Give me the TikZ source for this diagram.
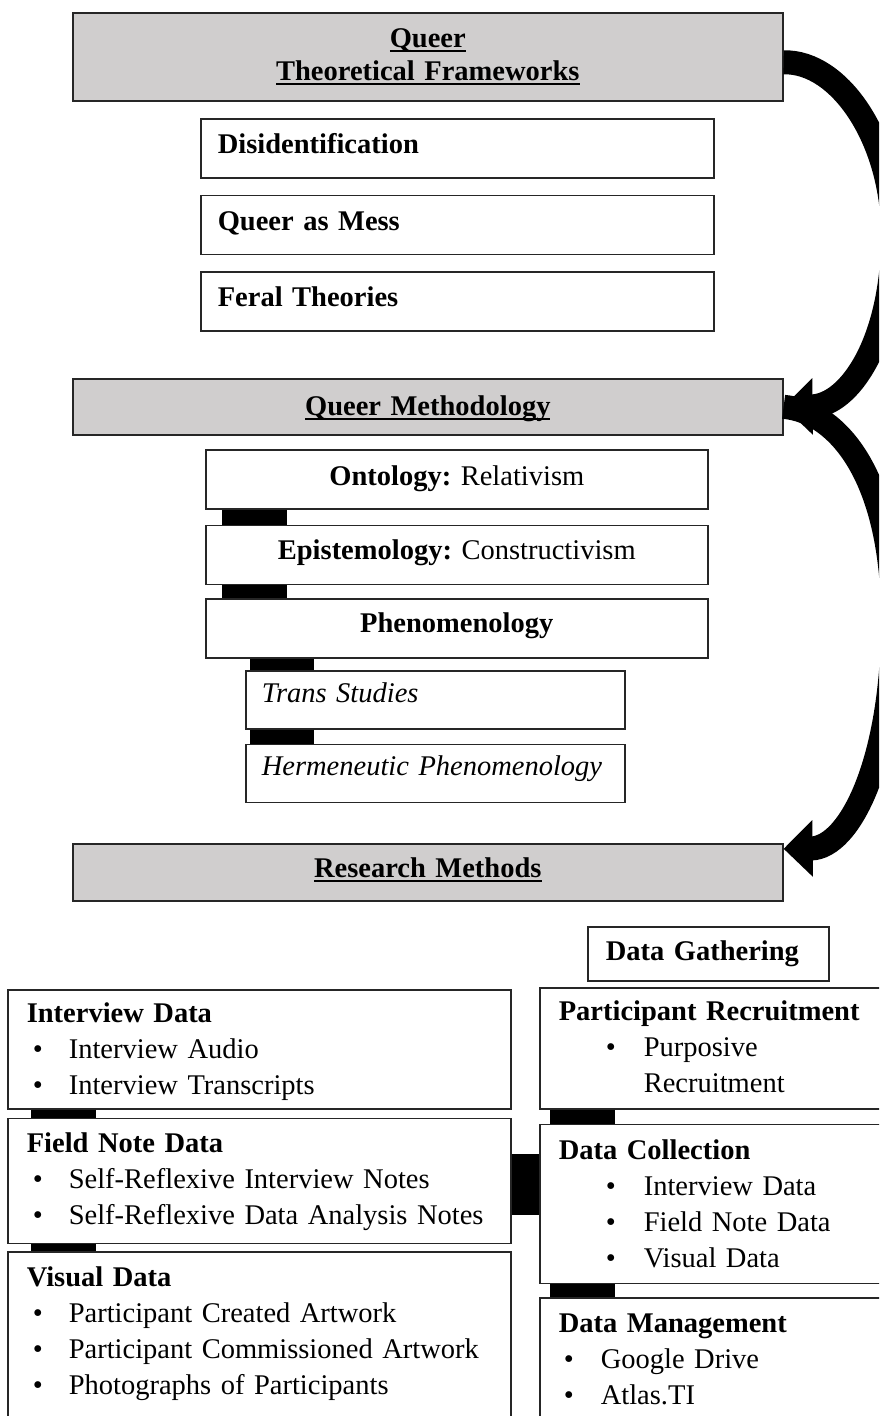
\documentclass[tikz,border=0pt]{standalone}
\usepackage{fontspec}
\setmainfont{Liberation Serif}
\usepackage{xcolor}
\definecolor{headgray}{HTML}{D0CECE}
\usepackage{tikz}
\usetikzlibrary{arrows.meta}
\usetikzlibrary{positioning}
\tikzstyle{head} = [rectangle, draw=black!85, fill=headgray, line width=0.8pt,
    anchor=north west, inner xsep=5pt, inner ysep=0pt, text width=345pt, align=center]
\tikzstyle{block} = [rectangle, draw=black!85, fill=white, line width=0.8pt,
    anchor=north west, inner ysep=0pt, align=left]
\tikzstyle{link} = [draw, line width=32.5pt, line cap=butt]
\tikzstyle{sweep} = [draw, line width=12pt, -{Triangle[length=14.5pt,width=27.5pt]}]
\newcommand{\ulhead}[1]{\leavevmode\setbox0=\hbox{\textbf{#1}}\rlap{\rule[-2pt]{\wd0}{1pt}}\box0}
\newcommand{\bull}[3]{\hspace*{#1}\makebox[#2][l]{\textbullet}#3}
\frenchspacing

\begin{document}
\begin{tikzpicture}[x=0.5pt,y=-0.5pt,font=\fontsize{14.25pt}{18pt}\selectfont]
    \useasboundingbox (0,0) rectangle (879,1416);
    \clip (0,0) rectangle (879,1416);
    % Place nodes
    \node [head, text height=17.5pt, text depth=26.5pt] (theory) at (72,12)
        {\ulhead{Queer}\\[-1.5pt]\ulhead{Theoretical Frameworks}};
    \node [block, text width=239.5pt, inner xsep=8.5pt, text height=17.5pt, text depth=12pt] (disid) at (200,118)
        {\textbf{Disidentification}};
    \node [block, text width=239.5pt, inner xsep=8.5pt, text height=17.5pt, text depth=12pt, below=8pt of disid] (mess)
        {\textbf{Queer as Mess}};
    \node [block, text width=239.5pt, inner xsep=8.5pt, text height=17.5pt, text depth=12pt, below=8pt of mess] (feral)
        {\textbf{Feral Theories}};

    \node [head, text height=18.5pt, text depth=9.5pt] (method) at (72,378) {\ulhead{Queer Methodology}};
    \node [block, align=center, text width=241pt, inner xsep=5pt, text height=18pt, text depth=11.5pt] (onto) at (205,449)
        {\textbf{Ontology:} Relativism};
    \node [block, align=center, text width=241pt, inner xsep=5pt, text height=17pt, text depth=12.5pt, below=7.5pt of onto] (episte)
        {\textbf{Epistemology:} Constructivism};
    \node [block, align=center, text width=241pt, inner xsep=5pt, text height=16.5pt, text depth=13pt, below=6.5pt of episte] (phenom)
        {\textbf{Phenomenology}};
    \node [block, text width=173.5pt, inner xsep=8pt, text height=16pt, text depth=13pt] (trans) at (245,670)
        {\textit{Trans Studies}};
    \node [block, text width=173.5pt, inner xsep=8pt, text height=15.5pt, text depth=13.5pt, below=7pt of trans] (herme)
        {\textit{Hermeneutic Phenomenology}};

    \node [head, text height=17pt, text depth=11.5pt] (research) at (72,843) {\ulhead{Research Methods}};
    \node [block, text width=102.5pt, inner xsep=9pt, text height=17pt, text depth=10pt] (gather) at (587,926)
        {\textbf{Data Gathering}};

    % left column
    \node [block, text width=232.5pt, inner xsep=9.5pt, text height=16.5pt, text depth=43pt] (interview) at (7,989)
        {\textbf{Interview Data}\\
         \bull{3pt}{18pt}{Interview Audio}\\
         \bull{3pt}{18pt}{Interview Transcripts}};
    \node [block, text width=232.5pt, inner xsep=9.5pt, text height=17pt, text depth=45.5pt, below=4pt of interview] (fieldnote)
        {\textbf{Field Note Data}\\
         \bull{3pt}{18pt}{Self-Reflexive Interview Notes}\\
         \bull{3pt}{18pt}{Self-Reflexive Data Analysis Notes}};
    \node [block, text width=232.5pt, inner xsep=9.5pt, text height=17pt, text depth=66.5pt, below=3.5pt of fieldnote] (visual)
        {\textbf{Visual Data}\\
         \bull{3pt}{18pt}{Participant Created Artwork}\\
         \bull{3pt}{18pt}{Participant Commissioned Artwork}\\
         \bull{3pt}{18pt}{Photographs of Participants}};

    % right column
    \node [block, text width=164pt, inner xsep=9.5pt, text height=16.5pt, text depth=44pt] (recruit) at (539,987)
        {\textbf{Participant Recruitment}\\
         \bull{23.5pt}{19pt}{Purposive}\\
         \hspace*{42.5pt}Recruitment};
    \node [block, text width=164pt, inner xsep=9.5pt, text height=17.5pt, text depth=62pt, below=7pt of recruit] (collect)
        {\textbf{Data Collection}\\
         \bull{23.5pt}{19pt}{Interview Data}\\
         \bull{23.5pt}{19pt}{Field Note Data}\\
         \bull{23.5pt}{19pt}{Visual Data}};
    \node [block, text width=164pt, inner xsep=9.5pt, text height=17pt, text depth=51pt, below=6.5pt of collect] (manage)
        {\textbf{Data Management}\\
         \bull{2.5pt}{18.5pt}{Google Drive}\\
         \bull{2.5pt}{18.5pt}{Atlas.TI}};

    % Draw edges
    \path [link] ([xshift=24.75pt]onto.south west) -- ([xshift=24.75pt]episte.north west);
    \path [link] ([xshift=24.75pt]episte.south west) -- ([xshift=24.75pt]phenom.north west);
    \path [link, line width=32pt] ([xshift=38.5pt]phenom.south west) -- ([xshift=18.5pt]trans.north west);
    \path [link, line width=32pt] ([xshift=18.5pt]trans.south west) -- ([xshift=18.5pt]herme.north west);
    \path [link] ([xshift=28.25pt]interview.south west) -- ([xshift=28.25pt]fieldnote.north west);
    \path [link] ([xshift=28.25pt]fieldnote.south west) -- ([xshift=28.25pt]visual.north west);
    \path [link] ([xshift=21.75pt]recruit.south west) -- ([xshift=21.75pt]collect.north west);
    \path [link] ([xshift=21.75pt]collect.south west) -- ([xshift=21.75pt]manage.north west);
    \path [link, line width=30.5pt] ([yshift=-33.25pt]fieldnote.north east) -- ([yshift=-30.25pt]collect.north west);

    % curved arrows on the right
    \path [sweep] ([yshift=-2.75pt]theory.east) .. controls (840,61) and (893,140) .. (893,235)
        .. controls (893,340) and (850,406) .. (method.east);
    \path [sweep] (method.east) .. controls (840,412) and (893,480) .. (893,620)
        .. controls (893,760) and (850,848) .. ([yshift=11.75pt]research.east);
\end{tikzpicture}
\end{document}
